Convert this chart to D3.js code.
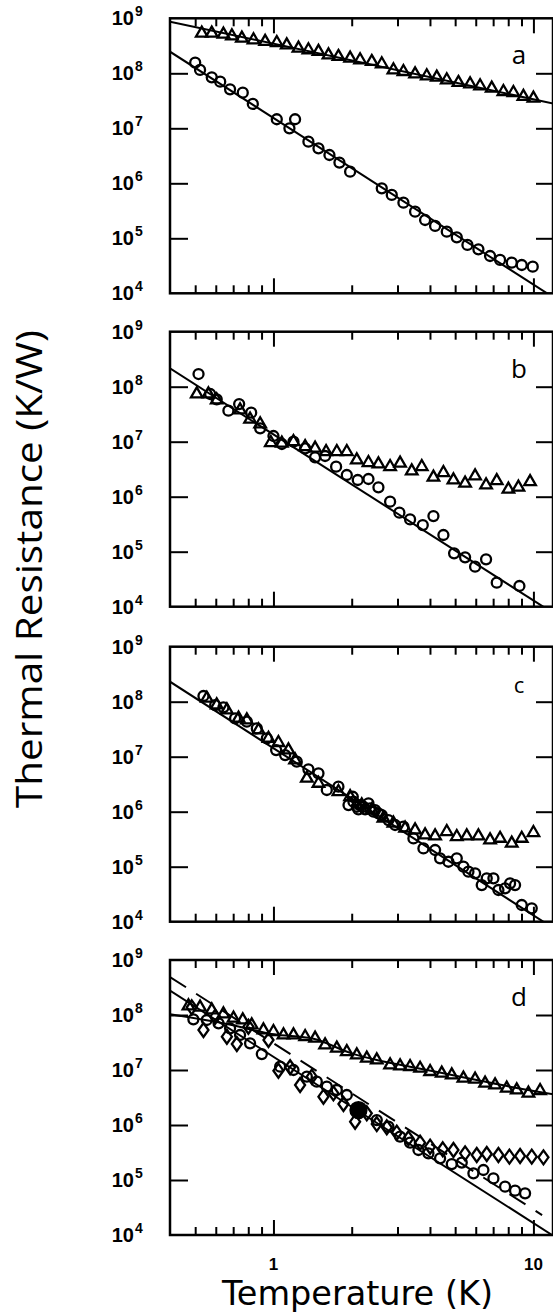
<!DOCTYPE html>
<html><head><meta charset="utf-8">
<script src="https://cdn.jsdelivr.net/npm/d3@7"></script>
<style>body{margin:0;background:#fff} svg{display:block}</style>
</head><body>
<svg id="c" width="553" height="1314"></svg>
<script>
// ---------- tick labels / categories ----------
const yTickExps = [4, 5, 6, 7, 8, 9];
const xTickLabels = [{v: 1, t: "1"}, {v: 10, t: "10"}];
const xMinorTicks = [0.5, 0.6, 0.7, 0.8, 0.9, 2, 3, 4, 5, 6, 7, 8, 9];
const panelLabels = ["a", "b", "c", "d"];

// ---------- panel a ----------
const aTriT = [0.53,0.579,0.642,0.692,0.756,0.838,0.929,1.03,1.125,1.248,1.363,1.49,1.628,1.778,1.972,2.154,2.389,2.61,2.894,3.162,3.506,3.888,4.249,4.642,5.147,5.707,6.235,6.913,7.666,8.376,9.152,10.0];
const aTriR = [5.34e8,5.34e8,5.12e8,4.77e8,4.33e8,4.04e8,3.77e8,3.61e8,3.27e8,2.85e8,2.66e8,2.48e8,2.15e8,2.01e8,1.87e8,1.75e8,1.63e8,1.48e8,1.15e8,1.07e8,9.7e7,8.95e7,8.46e7,7.57e7,6.77e7,6.4e7,5.89e7,5.34e7,4.64e7,4.45e7,3.77e7,3.51e7];
const aCircT = [0.5,0.522,0.579,0.624,0.681,0.762,0.833,1.03,1.152,1.211,1.363,1.49,1.642,1.794,1.972,2.61,2.852,3.162,3.506,3.831,4.186,4.642,5.072,5.574,6.143,6.812,7.443,8.253,9.017,9.941];
const aCircR = [1.56e8,1.15e8,8.46e7,7.05e7,5.12e7,4.45e7,2.77e7,1.46e7,1.0e7,1.46e7,5.72e6,4.33e6,3.27e6,2.38e6,1.63e6,8.11e5,6.14e5,4.45e5,3.05e5,2.15e5,1.68e5,1.32e5,1.04e5,7.57e4,6.31e4,4.77e4,4.04e4,3.61e4,3.27e4,3.05e4];
const aFitTriT = [0.4, 12], aFitTriR = [8.7e8, 2.8e7];
const aFitCircT = [0.4, 12], aFitCircR = [2.47e8, 8.3e3];

// ---------- panel b ----------
const bCircT = [0.515,0.571,0.605,0.671,0.738,0.821,0.889,1.0,1.077,1.194,1.324,1.446,1.58,1.742,1.915,2.11,2.32,2.534,2.81,3.051,3.354,3.753,4.125,4.506,4.953,5.46,5.965,6.575,7.227,8.834];
const bCircR = [1.7e8,7.36e7,5.89e7,3.66e7,4.84e7,3.37e7,1.75e7,1.27e7,9.08e6,1.0e7,7.57e6,5.19e6,5.49e6,3.51e6,2.48e6,2.01e6,2.1e6,1.48e6,8.11e5,5.12e5,3.87e5,3.05e5,4.45e5,2.01e5,9.33e4,7.89e4,5.34e4,7.26e4,2.73e4,2.38e4];
const bTriT = [0.507,0.562,0.605,0.744,0.813,0.889,0.977,1.077,1.194,1.324,1.446,1.594,1.753,1.915,2.092,2.32,2.534,2.81,3.07,3.404,3.72,4.125,4.506,4.924,5.46,5.965,6.575,7.227,8.013,8.755,9.709];
const bTriR = [7.36e7,7.36e7,5.73e7,3.77e7,2.55e7,2.1e7,9.59e6,9.33e6,1.0e7,8.11e6,7.57e6,6.58e6,6.58e6,6.58e6,4.64e6,4.15e6,3.93e6,3.51e6,4.04e6,2.93e6,3.51e6,2.25e6,2.73e6,2.01e6,1.75e6,2.38e6,1.63e6,1.95e6,1.36e6,1.48e6,1.87e6];
const bFitT = [0.4, 12], bFitR = [2.15e8, 7.5e3];

// ---------- panel c ----------
const cCircT = [0.538,0.597,0.642,0.712,0.79,0.863,0.943,1.024,1.109,1.229,1.363,1.49,1.604,1.778,1.944,2.019,2.031,2.092,2.123,2.154,2.219,2.253,2.32,2.354,2.425,2.46,2.534,2.61,2.769,2.938,3.162,3.455,3.775,4.186,4.375,4.711,5.072,5.38,5.623,5.965,6.327,6.614,7.017,7.334,7.78,8.132,8.5,9.017,9.853];
const cCircR = [1.27e8,8.69e7,7.89e7,4.98e7,4.33e7,3.27e7,2.15e7,1.32e7,1.07e7,8.11e6,5.89e6,4.98e6,2.48e6,2.85e6,1.32e6,1.87e6,1.52e6,1.23e6,1.1e6,1.32e6,1.23e6,1.1e6,1.42e6,1.15e6,1.0e6,1.07e6,9.33e5,8.69e5,7.05e5,5.73e5,5.34e5,3.27e5,2.15e5,2.01e5,1.42e5,1.23e5,1.42e5,1.0e5,8.11e4,7.57e4,4.64e4,6.14e4,6.14e4,3.77e4,4.04e4,4.98e4,4.64e4,2.01e4,1.75e4];
const cTriT = [0.554,0.605,0.662,0.734,0.79,0.876,0.957,1.045,1.142,1.211,1.344,1.49,1.778,1.972,2.186,2.389,2.649,2.894,3.209,3.506,3.831,4.186,4.642,5.072,5.541,6.143,6.812,7.443,8.253,9.017,10.0];
const cTriR = [1.15e8,8.69e7,7.05e7,4.98e7,4.64e7,3.05e7,2.15e7,1.8e7,1.32e7,8.69e6,4.04e6,3.27e6,2.31e6,1.87e6,1.32e6,1.07e6,7.57e5,6.14e5,4.98e5,4.64e5,3.77e5,3.61e5,4.33e5,3.51e5,3.61e5,3.61e5,3.05e5,3.27e5,2.66e5,3.27e5,4.15e5];
const cFitT = [0.4, 12], cFitR = [2.31e8, 7.5e3];

// ---------- panel d ----------
const dTriT = [0.471,0.522,0.579,0.642,0.702,0.762,0.825,0.915,1.0,1.093,1.194,1.324,1.446,1.58,1.753,1.915,2.092,2.286,2.497,2.81,3.07,3.354,3.665,4.005,4.44,4.852,5.38,5.965,6.517,7.121,7.896,8.627,9.567,10.61];
const dTriR = [1.46e8,1.38e8,1.23e8,1.04e8,8.69e7,8.11e7,6.58e7,5.34e7,4.98e7,4.33e7,4.33e7,4.04e7,3.77e7,2.85e7,2.48e7,2.15e7,1.87e7,1.63e7,1.52e7,1.23e7,1.18e7,1.15e7,1.07e7,9.33e6,8.69e6,8.11e6,7.05e6,6.76e6,5.72e6,5.34e6,4.64e6,4.33e6,3.77e6,4.21e6];
const dDiamT = [0.485,0.538,0.597,0.662,0.723,0.801,0.957,1.045,1.159,1.266,1.404,1.557,1.701,1.859,2.061,2.286,2.497,2.729,2.981,3.305,3.665,4.005,4.48,4.924,5.46,6.053,6.614,7.334,8.084,8.885,9.853,10.93];
const dDiamR = [1.38e8,5.34e7,9.33e7,4.04e7,2.97e7,6.14e7,3.51e7,9.73e6,1.12e7,5.34e6,7.57e6,3.27e6,3.77e6,2.41e6,1.15e6,1.63e6,1.04e6,9.08e5,7.26e5,5.73e5,4.77e5,4.04e5,3.61e5,3.51e5,3.05e5,2.85e5,2.97e5,2.85e5,2.66e5,2.73e5,2.66e5,2.58e5];
const dCircT = [0.492,0.554,0.615,0.681,0.744,0.813,0.902,1.061,1.194,1.344,1.468,1.604,1.753,1.915,2.497,2.769,3.07,3.354,3.612,3.946,4.375,4.852,5.301,5.877,6.421,7.017,7.78,8.5,9.288];
const dCircR = [8.34e7,8.11e7,7.05e7,5.73e7,4.33e7,3.05e7,1.95e7,1.15e7,1.0e7,7.57e6,6.14e6,4.98e6,4.33e6,3.51e6,1.23e6,9.33e5,6.14e5,4.77e5,3.51e5,3.05e5,2.48e5,1.95e5,2.07e5,1.32e5,1.52e5,1.07e5,7.57e4,6.4e4,5.72e4];
const dFilledT = [2.123], dFilledR = [1.87e6];
const dFitT = [0.4, 12], dFitR = [2.77e8, 9.5e3];
const dDashT = [0.4, 10.8], dDashR = [4.9e8, 2.3e4];
const dCurveT = [0.4,0.662,1.0,1.425,1.972,2.497,3.354,4.506,6.053,8.132,12];
const dCurveR = [1.03e8,6.86e7,4.45e7,3.7e7,2.05e7,1.52e7,1.15e7,8.69e6,6.58e6,4.98e6,3.6e6];

// ---------- assemble ----------
const panels = [
  {label: panelLabels[0], labelSize: 26,
   lines: [{T: aFitTriT, R: aFitTriR}, {T: aFitCircT, R: aFitCircR}],
   series: [{T: aTriT, R: aTriR, shape: "tri"}, {T: aCircT, R: aCircR, shape: "circ"}]},
  {label: panelLabels[1], labelSize: 26,
   lines: [{T: bFitT, R: bFitR}],
   series: [{T: bTriT, R: bTriR, shape: "tri"}, {T: bCircT, R: bCircR, shape: "circ"}]},
  {label: panelLabels[2], labelSize: 22,
   lines: [{T: cFitT, R: cFitR}],
   series: [{T: cTriT, R: cTriR, shape: "tri"}, {T: cCircT, R: cCircR, shape: "circ"}]},
  {label: panelLabels[3], labelSize: 26,
   lines: [{T: dFitT, R: dFitR}, {T: dDashT, R: dDashR, dash: true}, {T: dCurveT, R: dCurveR, smooth: true}],
   series: [{T: dTriT, R: dTriR, shape: "tri"}, {T: dDiamT, R: dDiamR, shape: "diam"},
            {T: dCircT, R: dCircR, shape: "circ"}, {T: dFilledT, R: dFilledR, shape: "filled"}]}
];

// ---------- layout ----------
const plotLeft = 170, plotRight = 553;
const panelTops = [18.3, 331.7, 646.7, 960], panelH = 275;
const x = d3.scaleLog().domain([0.4, 12]).range([170, 554]);
const svg = d3.select("#c");
const tickFont = "'Liberation Sans', Arial, sans-serif";
const titleFont = "'Open Sans', 'DejaVu Sans', sans-serif";

const triPath = d3.symbol().type(d3.symbolTriangle).size(58)();
const diamPath = "M0,-7L5,0L0,7L-5,0Z";

panels.forEach((p, i) => {
  const top = panelTops[i], bottom = top + panelH;
  const y = d3.scaleLog().domain([1e4, 1e9]).range([bottom, top]);
  const g = svg.append("g");
  const clipId = "clip" + i;
  svg.append("clipPath").attr("id", clipId).append("rect")
    .attr("x", plotLeft).attr("y", top).attr("width", plotRight - plotLeft + 2).attr("height", panelH);
  const inner = g.append("g").attr("clip-path", `url(#${clipId})`);

  // fitted lines
  p.lines.forEach(l => {
    const pts = l.T.map((t, j) => [x(t), y(l.R[j])]);
    inner.append("path")
      .attr("d", d3.line().curve(l.smooth ? d3.curveMonotoneX : d3.curveLinear)(pts))
      .attr("fill", "none").attr("stroke", "#000").attr("stroke-width", 2)
      .attr("stroke-dasharray", l.dash ? "19 12" : null);
  });

  // markers
  p.series.forEach(s => {
    const data = s.T.map((t, j) => ({t, r: s.R[j]}));
    const sel = inner.append("g").selectAll("path").data(data).join("path")
      .attr("transform", d => `translate(${x(d.t)},${y(d.r)})`)
      .attr("stroke", "#000").attr("stroke-width", 2.3);
    if (s.shape === "circ") sel.attr("d", d3.symbol().type(d3.symbolCircle).size(Math.PI * 25)()).attr("fill", "none");
    else if (s.shape === "tri") sel.attr("d", triPath).attr("fill", "none");
    else if (s.shape === "diam") sel.attr("d", diamPath).attr("fill", "none");
    else sel.attr("d", d3.symbol().type(d3.symbolCircle).size(Math.PI * 64)()).attr("fill", "#000");
  });

  // frame
  g.append("rect").attr("x", plotLeft).attr("y", top).attr("width", plotRight - plotLeft).attr("height", panelH)
    .attr("fill", "none").attr("stroke", "#000").attr("stroke-width", 2.5);

  const styleAxis = a => { a.select(".domain").remove(); a.selectAll("line").attr("stroke", "#000").attr("stroke-width", 2); a.selectAll("text").remove(); };
  const yInner = [1e5, 1e6, 1e7, 1e8];
  g.append("g").attr("transform", `translate(${plotLeft},0)`)
    .call(d3.axisLeft(y).tickValues(yInner).tickSize(-18)).call(styleAxis);
  g.append("g").attr("transform", `translate(${plotRight - 1},0)`)
    .call(d3.axisRight(y).tickValues(yInner).tickSize(-16)).call(styleAxis);
  const xMaj = xTickLabels.map(d => d.v);
  g.append("g").attr("transform", `translate(0,${bottom})`)
    .call(d3.axisBottom(x).tickValues(xMaj).tickSize(-15)).call(styleAxis);
  g.append("g").attr("transform", `translate(0,${bottom})`)
    .call(d3.axisBottom(x).tickValues(xMinorTicks).tickSize(-8)).call(styleAxis);
  g.append("g").attr("transform", `translate(0,${top})`)
    .call(d3.axisTop(x).tickValues(xMaj).tickSize(-15)).call(styleAxis);
  g.append("g").attr("transform", `translate(0,${top})`)
    .call(d3.axisTop(x).tickValues(xMinorTicks).tickSize(-8)).call(styleAxis);

  // y tick labels 10^n
  yTickExps.forEach(e => {
    const yy = y(Math.pow(10, e));
    g.append("text").attr("x", 134).attr("y", yy + 7).attr("text-anchor", "end")
      .attr("font-family", tickFont).attr("font-weight", "bold").attr("font-size", 20).text("10");
    g.append("text").attr("x", 135).attr("y", yy - 2).attr("text-anchor", "start")
      .attr("font-family", tickFont).attr("font-weight", "bold").attr("font-size", 14).text(String(e));
  });

  // panel letter
  g.append("text").attr("x", 519).attr("y", top + 46).attr("text-anchor", "middle")
    .attr("font-family", titleFont).attr("font-size", p.labelSize).text(p.label);
});

// x tick labels (bottom panel only)
xTickLabels.forEach(d => {
  svg.append("text").attr("x", x(d.v)).attr("y", 1270).attr("text-anchor", "middle")
    .attr("font-family", tickFont).attr("font-weight", "bold").attr("font-size", 17).text(d.t);
});

// axis titles
svg.append("text").attr("x", 357.5).attr("y", 1305).attr("text-anchor", "middle")
  .attr("font-family", "'DejaVu Sans', sans-serif").attr("font-size", 33)
  .attr("textLength", 271).attr("lengthAdjust", "spacingAndGlyphs")
  .text("Temperature  (K)");
svg.append("text").attr("transform", "translate(42,569) rotate(-90)").attr("text-anchor", "middle")
  .attr("font-family", titleFont).attr("font-size", 36)
  .attr("textLength", 478).attr("lengthAdjust", "spacingAndGlyphs")
  .text("Thermal Resistance  (K/W)");
</script>
</body></html>
